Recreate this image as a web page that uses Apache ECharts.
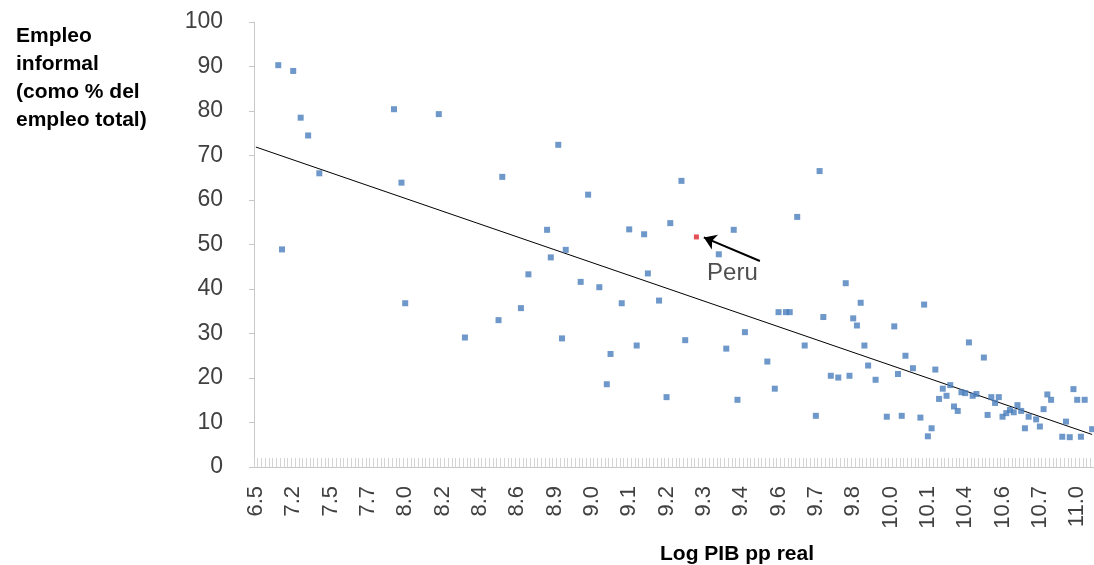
<!DOCTYPE html>
<html>
<head>
<meta charset="utf-8">
<script src="https://cdn.jsdelivr.net/npm/echarts@6/dist/echarts.min.js"></script>
<style>
html,body{margin:0;padding:0;background:#fff;}
#chart{width:1094px;height:565px;}
</style>
</head>
<body>
<div id="chart"></div>
<script>
// X axis: countries ordered by log real GDP per capita (category slots); a label every 10 slots
const tickLabels = ['6.5','7.2','7.5','7.7','8.0','8.2','8.4','8.6','8.9','9.0','9.1','9.2','9.3','9.4','9.6','9.7','9.8','10.0','10.1','10.4','10.6','10.7','11.0'];
const slotCount = 225;
const slotsPerLabel = 10;

// Informal employment (% of total employment) by slot
const slotIndex = [6,7,10,12,14,17,37,39,40,49,56,65,66,71,73,78,79,81,82,83,87,89,92,94,95,98,100,102,104,105,108,110,111,114,115,124,126,128,129,131,137,139,140,142,143,145,147,150,151,152,154,156,158,159,160,161,162,163,164,166,169,171,172,173,174,176,178,179,180,181,182,183,184,185,186,187,188,189,190,191,192,193,195,196,197,198,199,200,201,202,203,204,205,206,207,209,210,211,212,213,216,217,218,219,220,221,222,224];
const informal = [90.3,48.9,89.0,78.5,74.5,66.0,80.4,63.9,36.8,79.3,29.1,33.0,65.2,35.7,43.3,53.3,47.1,72.4,28.9,48.8,41.6,61.2,40.4,18.6,25.4,36.8,53.4,27.3,52.3,43.5,37.4,15.7,54.8,64.3,28.5,47.8,26.6,53.3,15.1,30.3,23.7,17.6,34.8,34.8,34.8,56.2,27.3,11.5,66.5,33.7,20.5,20.1,41.3,20.5,33.4,31.8,36.9,27.3,22.8,19.6,11.3,31.6,20.9,11.5,25.0,22.2,11.1,36.5,6.9,8.7,21.9,15.3,17.6,16.0,18.4,13.6,12.6,16.8,16.6,28.0,16.0,16.4,24.6,11.7,15.7,14.4,15.7,11.3,12.1,12.8,12.3,13.9,12.6,8.7,11.3,10.7,9.1,13.0,16.3,15.1,6.8,10.2,6.7,17.5,15.1,6.8,15.1,8.5];

// Peru
const peruSlot = 118;
const peruValue = 51.7;
// Arrow annotation (slot, value)
const arrowFrom = [135, 46.3];
const arrowTo = [120, 51.6];

// Linear trend line: values at first and last slot
const trendSlots = [0, 224];
const trendValues = [71.9, 7.3];

const categories = Array.from({length: slotCount}, (_, i) => 'c' + i);
const points = slotIndex.map((s, i) => [s, informal[i]]);
const trend = trendSlots.map((s, i) => [s, trendValues[i]]);

const chart = echarts.init(document.getElementById('chart'), null, {renderer: 'canvas'});
const font = "'Liberation Sans', Arial, sans-serif";

chart.setOption({
  animation: false,
  backgroundColor: '#ffffff',
  title: [
    {
      text: 'Empleo\ninformal\n(como % del\nempleo total)',
      left: 11, top: 17,
      textStyle: {fontFamily: font, fontSize: 21, fontWeight: 'bold', color: '#000', lineHeight: 28}
    },
    {
      text: 'Log PIB pp real',
      left: 655, top: 539,
      textStyle: {fontFamily: font, fontSize: 21, fontWeight: 'bold', color: '#000'}
    }
  ],
  grid: {left: 254, right: 0, top: 22, bottom: 98, containLabel: false},
  xAxis: {
    type: 'category',
    data: categories,
    boundaryGap: true,
    axisLine: {show: true, lineStyle: {color: '#c8c8c8', width: 1}},
    axisTick: {show: true, inside: true, interval: 0, length: 9, lineStyle: {color: '#d4d4d4', width: 1}},
    axisLabel: {
      interval: (idx) => idx % slotsPerLabel === 0,
      formatter: (v, idx) => tickLabels[idx / slotsPerLabel] || '',
      rotate: 90, margin: 19,
      fontFamily: font, fontSize: 22, color: '#404040'
    },
    splitLine: {show: false}
  },
  yAxis: {
    type: 'value', min: 0, max: 100, interval: 10,
    axisLine: {show: true, lineStyle: {color: '#c8c8c8', width: 1}},
    axisTick: {show: true, inside: false, length: 5, lineStyle: {color: '#c8c8c8'}},
    axisLabel: {margin: 31, fontFamily: font, fontSize: 23, color: '#404040'},
    splitLine: {show: false}
  },
  series: [
    {
      name: 'Trend', type: 'line', data: trend, symbol: 'none',
      lineStyle: {color: '#000', width: 1}, z: 1, silent: true
    },
    {
      name: 'Informal', type: 'scatter', data: points, symbol: 'rect', symbolSize: 6,
      itemStyle: {color: '#4a7ebb'}, z: 2
    },
    {
      name: 'Peru', type: 'scatter', data: [[peruSlot, peruValue]], symbol: 'rect', symbolSize: 5,
      itemStyle: {color: '#d9262b'}, z: 3,
      label: {show: true, formatter: 'Peru', position: 'inside', offset: [36, 36],
              fontFamily: font, fontSize: 24, color: '#222'},
      markLine: {
        silent: true, animation: false,
        symbol: ['none', 'arrow'], symbolSize: 12,
        itemStyle: {color: '#000'},
        lineStyle: {color: '#000', width: 2, type: 'solid'},
        label: {show: false},
        data: [[{coord: arrowFrom}, {coord: arrowTo}]]
      }
    }
  ]
});
</script>
</body>
</html>
